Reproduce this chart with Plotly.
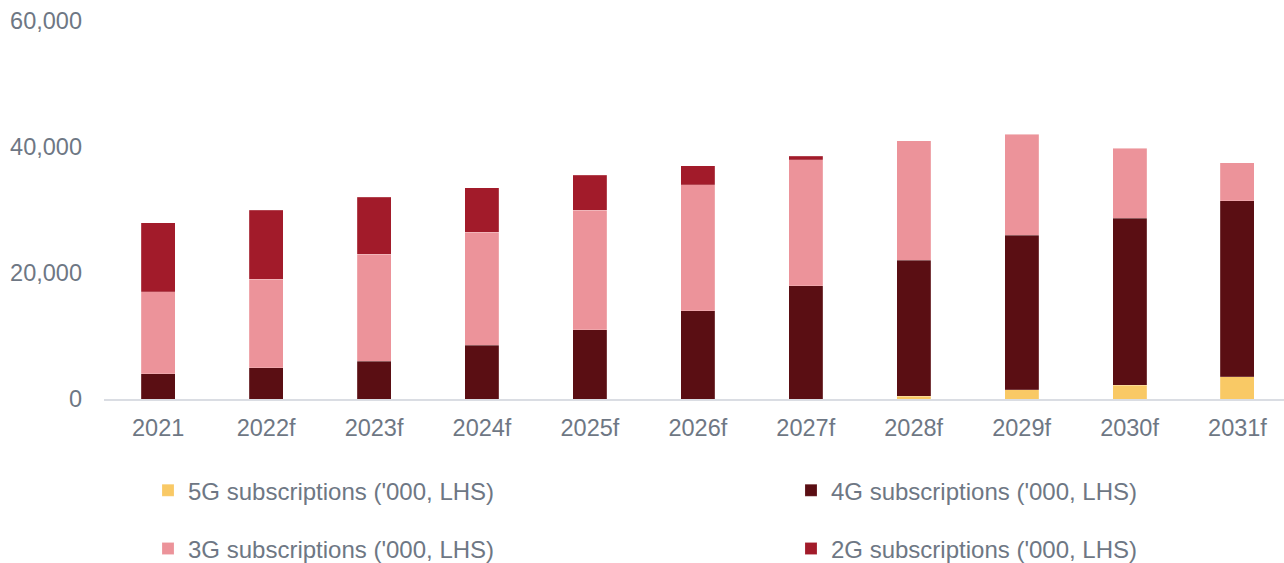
import plotly.graph_objects as go

categories = ["2021", "2022f", "2023f", "2024f", "2025f", "2026f", "2027f", "2028f", "2029f", "2030f", "2031f"]
subs_5g = [0, 0, 0, 0, 0, 0, 0, 400, 1500, 2200, 3500]
subs_4g = [4000, 5000, 6000, 8500, 11000, 14000, 18000, 21600, 24500, 26500, 28000]
subs_3g = [13000, 14000, 17000, 18000, 19000, 20000, 20000, 19000, 16000, 11100, 6000]
subs_2g = [11000, 11000, 9000, 7000, 5500, 3000, 500, 0, 0, 0, 0]
y_ticks = [0, 20000, 40000, 60000]

series = [
    ("5G subscriptions ('000, LHS)", subs_5g, "#F9C965", "legend"),
    ("4G subscriptions ('000, LHS)", subs_4g, "#5A0E13", "legend2"),
    ("3G subscriptions ('000, LHS)", subs_3g, "#EC939A", "legend"),
    ("2G subscriptions ('000, LHS)", subs_2g, "#A21B2A", "legend2"),
]

TEXT = "#6E7784"
FONT = "Liberation Sans, Arial, sans-serif"

fig = go.Figure()
for name, vals, color, leg in series:
    fig.add_trace(go.Bar(
        x=categories, y=vals, name=name,
        marker=dict(color=color, line=dict(width=0.5, color="rgba(255,255,255,0.35)")),
        legend=leg, legendgroup=name,
    ))

legend_common = dict(
    orientation="v", traceorder="grouped", tracegroupgap=24,
    font=dict(family=FONT, size=24, color=TEXT),
    bgcolor="rgba(0,0,0,0)", borderwidth=0,
    xanchor="left", yanchor="top", y=-0.183,
)

fig.update_layout(
    width=1284, height=563,
    margin=dict(l=104, r=0, t=21, b=164, autoexpand=False),
    paper_bgcolor="white", plot_bgcolor="white",
    barmode="stack", bargap=0.685,
    font=dict(family=FONT, size=23.5, color=TEXT),
    legend=dict(x=0.0373, **legend_common),
    legend2=dict(x=0.5822, **legend_common),
    xaxis=dict(
        range=[-0.502, 10.431], showgrid=False, zeroline=False,
        showline=True, linecolor="#DADDE3", linewidth=2,
        ticks="", ticklabelstandoff=7,
        tickfont=dict(family=FONT, size=23.5, color=TEXT),
    ),
    yaxis=dict(
        range=[0, 60000], tickvals=y_ticks, tickformat=",d",
        showgrid=False, zeroline=False, showline=False,
        ticks="", ticklabelstandoff=21,
        tickfont=dict(family=FONT, size=23.5, color=TEXT),
    ),
)

fig.write_html("out.html")
